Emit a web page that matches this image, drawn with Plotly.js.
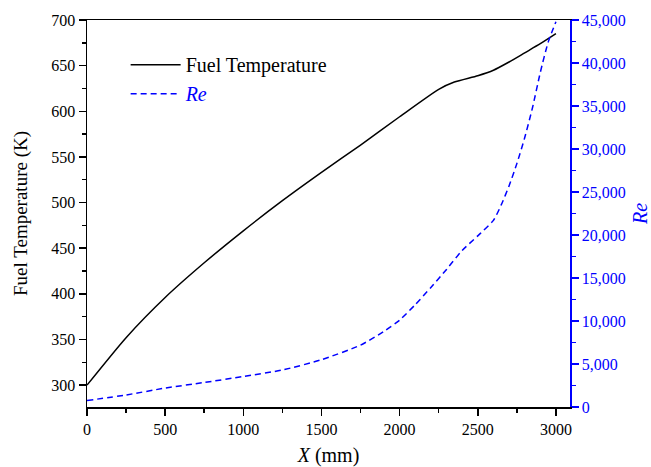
<!DOCTYPE html>
<html>
<head>
<meta charset="utf-8">
<script src="https://cdn.plot.ly/plotly-3.0.1.min.js"></script>
<style>html,body{margin:0;padding:0;background:#fff}#chart{width:651px;height:467px}</style>
</head>
<body>
<div id="chart"></div>
<script>
// Fuel temperature (K) vs axial position X (mm)
const tempX = [0, 250, 500, 750, 1000, 1250, 1500, 1750, 2000, 2250, 2350, 2500, 2600, 2700, 2800, 2900, 3000];
const tempY = [300, 352, 396, 434, 469, 502, 533, 563, 594, 624, 632, 639, 645, 654, 664, 674, 685];

// Reynolds number vs axial position X (mm)
const reX = [0, 250, 500, 750, 1000, 1250, 1500, 1750, 1900, 2000, 2100, 2200, 2300, 2400, 2500, 2600, 2650, 2700, 2750, 2800, 2850, 2900, 2950, 3000];
const reY = [750, 1400, 2200, 2850, 3550, 4300, 5500, 7200, 8800, 10100, 11900, 13900, 16000, 18200, 19900, 21700, 23500, 25700, 28300, 31300, 34800, 38900, 42400, 44800];

const xTicks = [0, 500, 1000, 1500, 2000, 2500, 3000];
const leftTicks = [300, 350, 400, 450, 500, 550, 600, 650, 700];
const rightTicks = [0, 5000, 10000, 15000, 20000, 25000, 30000, 35000, 40000, 45000];

const FONT = "Liberation Serif";
const BLUE = "#0000ff";

const traces = [
  {
    x: tempX, y: tempY, type: "scatter", mode: "lines",
    name: "Fuel Temperature",
    line: {color: "#000000", width: 1.5, shape: "spline", smoothing: 0.6},
    yaxis: "y"
  },
  {
    x: reX, y: reY, type: "scatter", mode: "lines",
    name: '<span style="color:#0000ff"><i>Re</i></span>',
    line: {color: BLUE, width: 1.5, dash: "6px,4px", shape: "spline", smoothing: 0.6},
    yaxis: "y2"
  }
];

const layout = {
  width: 651, height: 467,
  margin: {l: 87, r: 81, t: 20, b: 60},
  paper_bgcolor: "#ffffff", plot_bgcolor: "#ffffff",
  font: {family: FONT, size: 16, color: "#000000"},
  showlegend: true,
  legend: {
    x: 0.08, y: 0.935, xanchor: "left", yanchor: "top",
    bgcolor: "rgba(0,0,0,0)", borderwidth: 0,
    font: {family: FONT, size: 20, color: "#000000"},
    itemwidth: 50
  },
  xaxis: {
    range: [0, 3090], tickvals: xTicks, ticktext: xTicks.map(String),
    showline: true, linecolor: "#000", linewidth: 1.5, mirror: true,
    ticks: "outside", ticklen: 7, tickwidth: 1.5, tickcolor: "#000",
    minor: {dtick: 250, tick0: 0, ticks: "outside", ticklen: 4, tickwidth: 1.5, tickcolor: "#000"},
    showgrid: false, zeroline: false,
    tickfont: {family: FONT, size: 16, color: "#000"},
    title: {text: "<i>X</i> (mm)", font: {family: FONT, size: 20, color: "#000"}, standoff: 14}
  },
  yaxis: {
    range: [276, 700], tickvals: leftTicks, ticktext: leftTicks.map(String),
    showline: true, linecolor: "#000", linewidth: 1.5,
    ticks: "outside", ticklen: 7, tickwidth: 1.5, tickcolor: "#000",
    minor: {dtick: 25, tick0: 0, ticks: "outside", ticklen: 4, tickwidth: 1.5, tickcolor: "#000"},
    showgrid: false, zeroline: false,
    tickfont: {family: FONT, size: 16, color: "#000"},
    title: {text: "Fuel Temperature (K)", font: {family: FONT, size: 19, color: "#000"}, standoff: 18}
  },
  yaxis2: {
    range: [0, 45000], overlaying: "y", side: "right",
    tickvals: rightTicks, ticktext: rightTicks.map(v => v.toLocaleString("en-US")),
    showline: true, linecolor: BLUE, linewidth: 1.5,
    ticks: "outside", ticklen: 7, tickwidth: 1.5, tickcolor: BLUE,
    minor: {dtick: 2500, tick0: 0, ticks: "outside", ticklen: 4, tickwidth: 1.5, tickcolor: BLUE},
    showgrid: false, zeroline: false,
    tickfont: {family: FONT, size: 16, color: BLUE},
    title: {text: "<i>Re</i>", font: {family: FONT, size: 20, color: BLUE}, standoff: 8}
  }
};

Plotly.newPlot("chart", traces, layout, {displayModeBar: false, staticPlot: true});
</script>
</body>
</html>
